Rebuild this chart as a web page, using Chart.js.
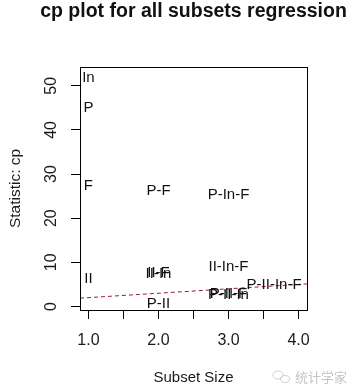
<!DOCTYPE html>
<html><head><meta charset="utf-8">
<script src="https://cdn.jsdelivr.net/npm/chart.js@4/dist/chart.umd.min.js"></script>
<style>html,body{margin:0;padding:0;background:#fff}#c{display:block}</style>
</head><body>
<canvas id="c" width="356" height="392"></canvas>
<script>
// ---- data ----
const subsetLabels = ['In','P','F','II','P-F','II-F','II-In','P-II','P-In-F','II-In-F','P-II-F','P-II-In','P-II-In-F'];
const subsetSize   = [1, 1, 1, 1, 2, 2, 2, 2, 3, 3, 3, 3, 4];
const cpValues     = [51.9, 45.1, 27.3, 6.2, 26.1, 7.7, 7.4, 0.7, 25.2, 8.9, 2.8, 2.6, 5.0];
// reference line Cp = p (subset size + 1)
const refLineX = [0.88, 4.12];
const refLineY = [1.88, 5.12];
const xTickLabels = ['1.0','2.0','3.0','4.0'];
const yTickLabels = ['0','10','20','30','40','50'];
const titleText = 'cp plot for all subsets regression';
const xTitle = 'Subset Size';
const yTitle = 'Statistic: cp';
const watermark = '统计学家';

const FONT = "'Liberation Sans', Arial, sans-serif";
Chart.defaults.font.family = FONT;

const points = subsetSize.map((x, i) => ({x: x, y: cpValues[i]}));
const refPts = refLineX.map((x, i) => ({x: x, y: refLineY[i]}));

const decor = {
  id: 'decor',
  afterDatasetsDraw(chart) {
    const ctx = chart.ctx;
    const a = chart.chartArea;
    const ys = chart.scales.y;
    ctx.save();
    // box
    ctx.strokeStyle = '#000';
    ctx.lineWidth = 1;
    ctx.strokeRect(Math.round(a.left) + 0.5, Math.round(a.top) + 0.5,
                   Math.round(a.right - a.left), Math.round(a.bottom - a.top));
    // y tick labels (rotated, R style)
    ctx.fillStyle = '#1a1a1a';
    ctx.font = '16px ' + FONT;
    ctx.textAlign = 'center';
    ctx.textBaseline = 'middle';
    ys.ticks.forEach(t => {
      const lbl = yTickLabels.find(s => Number(s) === t.value);
      if (lbl === undefined) return;
      const py = ys.getPixelForValue(t.value);
      ctx.save();
      ctx.translate(a.left - 28, py);
      ctx.rotate(-Math.PI / 2);
      ctx.fillText(lbl, 0, 0);
      ctx.restore();
    });
    // point labels
    const meta = chart.getDatasetMeta(0);
    ctx.font = '15px ' + FONT;
    ctx.fillStyle = '#111';
    meta.data.forEach((el, i) => {
      const txt = subsetLabels[i];
      const w = ctx.measureText(txt).width;
      if (el.x + w / 2 > a.right) {
        ctx.textAlign = 'right';
        ctx.fillText(txt, el.x + 3, el.y);
      } else {
        ctx.textAlign = 'center';
        ctx.fillText(txt, el.x, el.y);
      }
    });
    // title
    ctx.textAlign = 'center';
    ctx.textBaseline = 'alphabetic';
    ctx.font = 'bold 19.5px ' + FONT;
    ctx.fillStyle = '#111';
    ctx.fillText(titleText, (a.left + a.right) / 2, 17);
    // watermark
    ctx.fillStyle = '#c4c4c4';
    ctx.font = "13px 'Noto Sans CJK SC', sans-serif";
    ctx.textAlign = 'left';
    ctx.textBaseline = 'middle';
    ctx.fillText(watermark, 295, 377);
    ctx.strokeStyle = '#cfcfcf';
    ctx.lineWidth = 1;
    ctx.beginPath(); ctx.ellipse(278, 375, 5, 4, 0, 0, Math.PI * 2); ctx.stroke();
    ctx.beginPath(); ctx.ellipse(285, 379, 4.5, 3.5, 0, 0, Math.PI * 2); ctx.stroke();
    ctx.restore();
  }
};

new Chart(document.getElementById('c'), {
  type: 'scatter',
  data: {
    datasets: [
      { label: 'subsets', data: points, pointRadius: 0, pointHoverRadius: 0, showLine: false },
      { label: 'Cp = p', type: 'line', data: refPts, borderColor: '#9a1b34', borderWidth: 1,
        borderDash: [4, 3], pointRadius: 0, fill: false, tension: 0 }
    ]
  },
  options: {
    responsive: false,
    animation: false,
    events: [],
    layout: { padding: { top: 67, right: 49, left: 0, bottom: 0 } },
    plugins: { legend: { display: false }, tooltip: { enabled: false }, title: { display: false } },
    scales: {
      x: {
        type: 'linear', min: 0.88, max: 4.12,
        afterFit: s => { s.height = 82; },
        ticks: {
          stepSize: 0.5, includeBounds: false, autoSkip: false, maxRotation: 0,
          font: { size: 16 }, color: '#1a1a1a', padding: 12,
          callback: v => { const l = xTickLabels.find(s => Number(s) === v); return l === undefined ? '' : l; }
        },
        grid: { drawOnChartArea: false, drawTicks: true, tickLength: 9, tickColor: '#000', color: '#000' },
        border: { display: false },
        title: { display: true, text: xTitle, font: { size: 15 }, color: '#1a1a1a', padding: { top: 0, bottom: 5 } }
      },
      y: {
        type: 'linear', min: -0.8, max: 54.25,
        afterFit: s => { s.width = 80; },
        ticks: { stepSize: 10, includeBounds: false, display: false },
        grid: { drawOnChartArea: false, drawTicks: true, tickLength: 9, tickColor: '#000', color: '#000' },
        border: { display: false },
        title: { display: true, text: yTitle, font: { size: 15.5 }, color: '#1a1a1a', padding: { top: 6, bottom: 0 } }
      }
    }
  },
  plugins: [decor]
});
</script>
</body></html>
